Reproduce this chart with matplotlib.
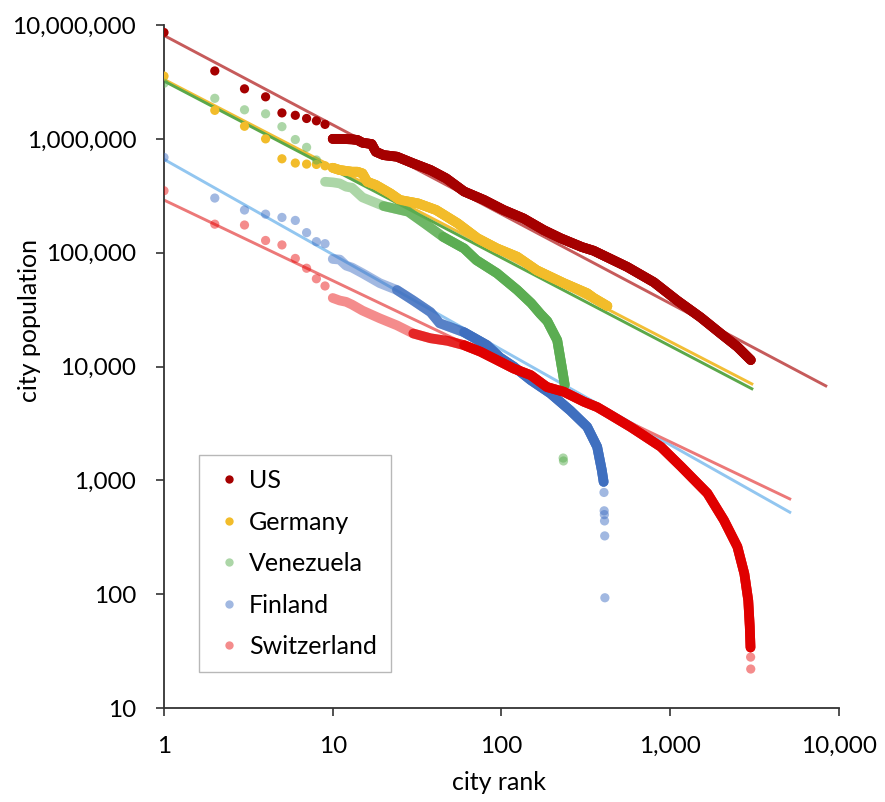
import numpy as np
import matplotlib
matplotlib.use("Agg")
import matplotlib.pyplot as plt
from matplotlib.ticker import FixedLocator, FuncFormatter, NullLocator
from matplotlib.lines import Line2D

plt.rcParams['font.family'] = ['Lato', 'DejaVu Sans']

# ---- data (rank -> city population) ----
# largest cities, drawn as separate dots
us_rank = [1, 2, 3, 4, 5, 6, 7, 8, 9]
us_pop = [8.6e6, 3.95e6, 2.75e6, 2.34e6, 1.69e6, 1.61e6, 1.51e6, 1.44e6, 1.34e6]
# the dense part of each series (many cities, looks like a thick band)
us_band_rank = [10, 11, 13, 14, 15, 17, 18, 20, 24, 30, 38, 47, 60, 79, 103, 135, 178,
                224, 300, 352, 556, 800, 1100, 1515, 1980, 2500, 3000]
us_band_pop = [1.0e6, 1.0e6, 0.99e6, 0.977e6, 0.925e6, 0.9e6, 0.77e6, 0.72e6, 0.697e6,
               0.609e6, 0.532e6, 0.45e6, 0.345e6, 0.29e6, 0.237e6, 0.2e6, 0.158e6,
               0.134e6, 0.112e6, 0.104e6, 75e3, 55e3, 38e3, 27e3, 19.6e3, 14.9e3, 11.4e3]

de_rank = [1, 2, 3, 4, 5, 6, 7, 8, 9]
de_pop = [3.56e6, 1.78e6, 1.29e6, 1.0e6, 668e3, 613e3, 600e3, 596e3, 580e3]
de_band_rank = [10, 11, 13, 14, 15, 16, 18, 22, 25, 32, 41, 55, 72, 94, 124, 162, 234,
                322, 352, 424]
de_band_pop = [557e3, 532e3, 514e3, 514e3, 497e3, 420e3, 393e3, 331e3, 290e3, 271e3,
               237e3, 181e3, 134e3, 109e3, 92e3, 70e3, 54e3, 44e3, 40e3, 34e3]

ve_rank = [1, 2, 3, 4, 5, 6, 7, 8, 232, 233]
ve_pop = [3.08e6, 2.27e6, 1.80e6, 1.66e6, 1.28e6, 986e3, 842e3, 652e3, 1570, 1480]
ve_band_rank = [9, 10, 11, 12, 13, 15, 20, 28, 35, 45, 60, 71, 94, 124, 150, 170, 187,
                214, 224, 231, 237]
ve_band_pop = [420e3, 415e3, 406e3, 380e3, 372e3, 306e3, 257e3, 229e3, 181e3, 138e3,
               109e3, 86e3, 66e3, 47e3, 36e3, 29e3, 25e3, 17e3, 11.4e3, 8.7e3, 6.9e3]

fi_rank = [1, 2, 3, 4, 5, 6, 7, 8, 9, 405, 406, 407, 408, 409, 410]
fi_pop = [687e3, 302e3, 237e3, 218e3, 204e3, 192e3, 150e3, 125e3, 120e3,
          783, 540, 500, 440, 325, 93]
fi_band_rank = [10, 11, 12, 13, 15, 19, 24, 30, 38, 43, 60, 82, 98, 118, 149, 195, 256,
                322, 369, 393, 403]
fi_band_pop = [88e3, 87e3, 77e3, 74e3, 66e3, 54e3, 47e3, 38e3, 30e3, 24e3, 20e3,
               15.4e3, 12e3, 10e3, 7.6e3, 5.8e3, 4.1e3, 2.95e3, 1.97e3, 1.23e3, 970]

ch_rank = [1, 2, 3, 4, 5, 6, 7, 8, 9, 2995, 3000]
ch_pop = [350e3, 178e3, 175e3, 128e3, 117e3, 89e3, 73e3, 59e3, 51e3, 28, 22]
ch_band_rank = [10, 11, 12, 13, 15, 19, 24, 30, 38, 48, 60, 75, 94, 118, 149, 186, 234,
                308, 369, 424, 581, 670, 880, 1160, 1660, 2080, 2500, 2750, 2900, 2960,
                2990]
ch_band_pop = [40e3, 38e3, 37e3, 35e3, 31e3, 26.5e3, 23e3, 19.5e3, 17.7e3, 16.8e3,
               15.4e3, 13.5e3, 11.4e3, 9.6e3, 8.4e3, 6.6e3, 6.0e3, 4.9e3, 4.4e3, 3.9e3,
               2.95e3, 2.57e3, 1.97e3, 1.32e3, 770, 447, 261, 151, 88, 52, 34]

# power-law trendlines: pop = coef * rank ** expo, drawn from rank 1 to rank_end
us_fit = (8.1e6, -0.785, 8500)
de_fit = (3.33e6, -0.768, 3100)
ve_fit = (3.22e6, -0.776, 3100)
fi_fit = (6.61e5, -0.836, 5200)
ch_fit = (2.9e5, -0.708, 5200)

names = ["US", "Germany", "Venezuela", "Finland", "Switzerland"]

series = [
    # name, dots, band, fit, dot color, dot alpha, band color, (mid_from, dense_from), trend color
    (names[0], us_rank, us_pop, us_band_rank, us_band_pop, us_fit, "#A50000", 1.0, "#A50000", (0, 0), "#C65B5B"),
    (names[1], de_rank, de_pop, de_band_rank, de_band_pop, de_fit, "#F2BC2A", 1.0, "#F2BC2A", (0, 0), "#F2BE35"),
    (names[2], ve_rank, ve_pop, ve_band_rank, ve_band_pop, ve_fit, "#5AAE50", 0.5, "#5BAD52", (18, 40), "#5BA84A"),
    (names[3], fi_rank, fi_pop, fi_band_rank, fi_band_pop, fi_fit, "#4472C4", 0.5, "#3F6FBF", (22, 55), "#92C6F0"),
    (names[4], ch_rank, ch_pop, ch_band_rank, ch_band_pop, ch_fit, "#E80000", 0.45, "#E00000", (25, 55), "#EC7878"),
]

fig = plt.figure(figsize=(8.85, 8.02), dpi=100)
ax = fig.add_axes([0.1853, 0.1172, 0.7627, 0.8516])
ax.set_xscale("log")
ax.set_yscale("log")

# trendlines underneath the dots
for name, r, p, br, bp, fit, dc, da, bc, steps, tc in series:
    coef, expo, x_end = fit
    xs = np.array([1.0, x_end])
    ax.plot(xs, coef * xs ** expo, color=tc, lw=2.1, zorder=1, solid_capstyle="butt")

band_kw = dict(lw=7, solid_capstyle="round", solid_joinstyle="round", zorder=2)
handles = []
for name, r, p, br, bp, fit, dc, da, bc, steps, tc in series:
    br = np.array(br)
    bp = np.array(bp)
    mid_from, dense_from = steps
    ax.plot(br, bp, color=dc, alpha=da, **band_kw)
    m = br >= mid_from
    ax.plot(br[m], bp[m], color=bc, alpha=(1 + da) / 2, **band_kw)
    m = br >= dense_from
    ax.plot(br[m], bp[m], color=bc, **band_kw)
    ax.scatter(r, p, s=44, color=dc, alpha=da, edgecolors="none", zorder=3)
    handles.append(Line2D([], [], marker="o", linestyle="none", markersize=6,
                          markerfacecolor=dc, markeredgecolor="none", alpha=da, label=name))

ax.set_xlim(1, 10000)
ax.set_ylim(10, 1e7)

fmt = FuncFormatter(lambda v, pos: f"{int(round(v)):,}")
ax.xaxis.set_major_locator(FixedLocator([1, 10, 100, 1000, 10000]))
ax.yaxis.set_major_locator(FixedLocator([10, 100, 1e3, 1e4, 1e5, 1e6, 1e7]))
ax.xaxis.set_minor_locator(NullLocator())
ax.yaxis.set_minor_locator(NullLocator())
ax.xaxis.set_major_formatter(fmt)
ax.yaxis.set_major_formatter(fmt)
ax.tick_params(axis="both", direction="out", length=6, width=1.2, color="#333333",
               labelsize=17.5, pad=14)

for s in ["top", "right"]:
    ax.spines[s].set_visible(False)
for s in ["left", "bottom"]:
    ax.spines[s].set_linewidth(1.3)
    ax.spines[s].set_color("#333333")

ax.set_xlabel("city rank", fontsize=18)
ax.set_ylabel("city population", fontsize=18)
ax.xaxis.set_label_coords(0.497, -0.092)
ax.yaxis.set_label_coords(-0.182, 0.568)

leg = ax.legend(handles=handles, loc="upper left", bbox_to_anchor=(0.052, 0.370),
                borderaxespad=0, fontsize=18, frameon=True, fancybox=False,
                handletextpad=0.15, handlelength=1.3, labelspacing=0.74,
                borderpad=0.55)
leg.get_frame().set_edgecolor("#A6A6A6")
leg.get_frame().set_linewidth(1.0)

fig.savefig("out.png", dpi=100)
